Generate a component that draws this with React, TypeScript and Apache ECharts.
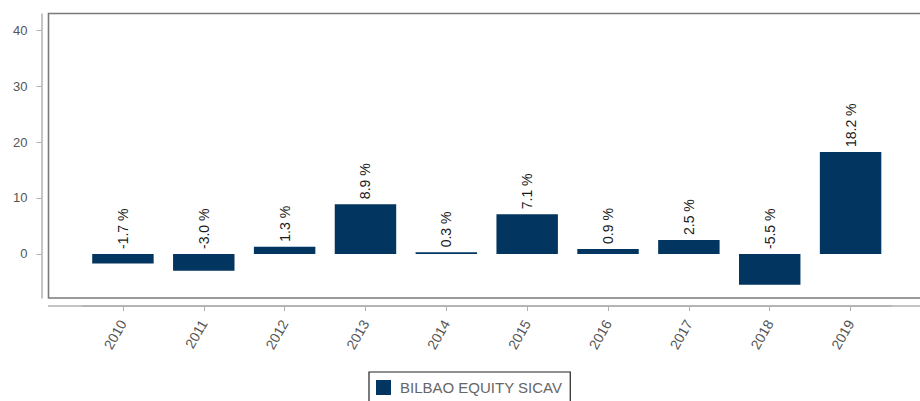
import React, { useEffect, useRef } from "react";
import * as echarts from "echarts";

const years = ["2010", "2011", "2012", "2013", "2014", "2015", "2016", "2017", "2018", "2019"];
const returns = [-1.7, -3.0, 1.3, 8.9, 0.3, 7.1, 0.9, 2.5, -5.5, 18.2];
const yTicks = [0, 10, 20, 30, 40];
const seriesName = "BILBAO EQUITY SICAV";

const FONT = "Liberation Sans, Arial, sans-serif";

export default function App() {
  const ref = useRef<HTMLDivElement>(null);
  useEffect(() => {
    if (!ref.current) return;
    const chart = echarts.init(ref.current, null, { renderer: "svg" });
    chart.setOption({
      animation: false,
      backgroundColor: "#ffffff",
      grid: { left: 82.5, right: 29, top: 14, bottom: 103, containLabel: false },
      xAxis: {
        type: "category",
        data: years,
        offset: 8,
        axisLine: { show: true, onZero: false, lineStyle: { color: "#b0b0b0", width: 1.5 } },
        axisTick: { show: true, alignWithLabel: true, length: 5, lineStyle: { color: "#b0b0b0" } },
        axisLabel: { rotate: 60, margin: 15, color: "#555555", fontSize: 14, fontFamily: FONT },
        splitLine: { show: false },
      },
      yAxis: {
        type: "value",
        min: -7.86,
        max: 42.86,
        offset: 41,
        axisLine: { show: true, onZero: false, lineStyle: { color: "#b0b0b0", width: 1.5 } },
        axisTick: { show: true, length: 5, customValues: yTicks, lineStyle: { color: "#b0b0b0" } },
        axisLabel: { customValues: yTicks, margin: 14, color: "#555555", fontSize: 13, fontFamily: FONT },
        splitLine: { show: false },
      },
      legend: {
        data: [seriesName],
        left: 369,
        top: 372,
        padding: [8, 8, 8, 7],
        borderColor: "#222222",
        borderWidth: 1.2,
        borderRadius: 0,
        itemWidth: 15,
        itemHeight: 15,
        icon: "rect",
        textStyle: { color: "#666666", fontSize: 15, fontFamily: FONT, padding: [0, 0, 0, 4] },
      },
      graphic: [
        {
          type: "rect",
          shape: { x: 48.5, y: 13.5, width: 900, height: 284.5 },
          style: { fill: "none", stroke: "#7a7a7a", lineWidth: 1.6 },
          silent: true,
        },
        {
          type: "line",
          shape: { x1: 48, y1: 306, x2: 920, y2: 306 },
          style: { stroke: "#b0b0b0", lineWidth: 1.5 },
          silent: true,
        },
      ],
      series: [
        {
          name: seriesName,
          type: "bar",
          data: returns,
          barWidth: "76%",
          itemStyle: { color: "#02355f" },
          label: {
            show: true,
            position: "top",
            distance: 5,
            rotate: 90,
            align: "left",
            verticalAlign: "middle",
            color: "#1a1a1a",
            fontSize: 14,
            fontFamily: FONT,
            formatter: (p: any) => `${p.value.toFixed(1)} %`,
          },
        },
      ],
    });
    return () => chart.dispose();
  }, []);
  return (
    <div
      ref={ref}
      style={{ position: "fixed", left: 0, top: 0, width: 920, height: 401, background: "#fff" }}
    />
  );
}
